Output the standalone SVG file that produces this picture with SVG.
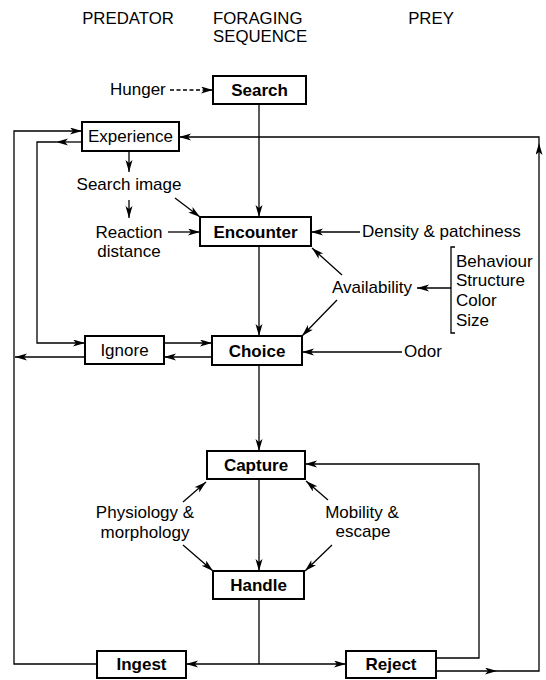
<svg xmlns="http://www.w3.org/2000/svg" width="546" height="680" viewBox="0 0 546 680">
  <style>
    text { font-family: "Liberation Sans", Arial, sans-serif; font-size: 17px; fill: #000; }
    .hdr { font-size: 16.8px; }
    .box { fill: #fff; stroke: #000; stroke-width: 2; }
    .lbl { font-weight: bold; font-size: 17px; text-anchor: middle; }
    .mid { text-anchor: middle; }
    .wire { fill: none; stroke: #000; stroke-width: 1.3; }
    .arr { marker-end: url(#head); }
  </style>
  <defs>
    <marker id="head" markerUnits="userSpaceOnUse" markerWidth="13" markerHeight="8" refX="12" refY="3.5" orient="auto">
      <path d="M0,0 L12,3.5 L0,7 L3,3.5 Z" fill="#000"/>
    </marker>
  </defs>

  <!-- column headings -->
  <g id="headings">
    <text class="hdr mid" x="128" y="24">PREDATOR</text>
    <text class="hdr" x="213" y="24">FORAGING</text>
    <text class="hdr" x="213" y="42">SEQUENCE</text>
    <text class="hdr mid" x="431" y="24">PREY</text>
  </g>

  <!-- connectors -->
  <g id="connectors">
    <path class="wire arr" d="M170,90 H213" stroke-dasharray="4 2.5"/>
    <path class="wire arr" d="M259,104 V217"/>
    <path class="wire arr" d="M129,151 V172"/>
    <path class="wire arr" d="M129,200 V218"/>
    <path class="wire arr" d="M175,198 L200,217"/>
    <path class="wire arr" d="M168,232 H200"/>
    <path class="wire arr" d="M360,232 H311"/>
    <path class="wire arr" d="M342,275 L312,248"/>
    <path class="wire arr" d="M337,300 L302,336"/>
    <path class="wire arr" d="M451,288 H417"/>
    <path class="wire" d="M455,247 H451 V333 H455"/>
    <path class="wire arr" d="M259,246 V336"/>
    <path class="wire arr" d="M402,352 H302"/>
    <path class="wire arr" d="M164,343 H212"/>
    <path class="wire arr" d="M212,357 H164"/>
    <path class="wire arr" d="M82,142 H56"/>
    <path class="wire arr" d="M56,142 H37 V343 H85"/>
    <path class="wire arr" d="M85,357 H15"/>
    <path class="wire arr" d="M97,664 H14 V131 H82"/>
    <path class="wire arr" d="M259,365 V451"/>
    <path class="wire arr" d="M259,479 V571"/>
    <path class="wire arr" d="M183,502 L206,482"/>
    <path class="wire arr" d="M183,545 L213,571"/>
    <path class="wire arr" d="M328,500 L306,481"/>
    <path class="wire arr" d="M332,545 L305,571"/>
    <path class="wire" d="M259,599 V664"/>
    <path class="wire arr" d="M259,664 H186"/>
    <path class="wire arr" d="M259,664 H346"/>
    <path class="wire arr" d="M436,658 H479 V464 H305"/>
    <path class="wire arr" d="M436,671 H497"/>
    <path class="wire arr" d="M497,671 H539 V143"/>
    <path class="wire arr" d="M539,143 V137 H179"/>
  </g>

  <!-- foraging sequence -->
  <g id="search">
    <rect class="box" x="213" y="76" width="93" height="28"/>
    <text class="lbl" x="259.5" y="96">Search</text>
  </g>
  <g id="encounter">
    <rect class="box" x="200" y="217" width="111" height="29"/>
    <text class="lbl" x="255.5" y="238">Encounter</text>
  </g>
  <g id="choice">
    <rect class="box" x="212" y="336" width="90" height="29"/>
    <text class="lbl" x="257" y="357">Choice</text>
  </g>
  <g id="capture">
    <rect class="box" x="207" y="451" width="98" height="28"/>
    <text class="lbl" x="256" y="471">Capture</text>
  </g>
  <g id="handle">
    <rect class="box" x="213" y="571" width="91" height="28"/>
    <text class="lbl" x="258.5" y="591">Handle</text>
  </g>
  <g id="ingest">
    <rect class="box" x="97" y="651" width="89" height="27"/>
    <text class="lbl" x="141.5" y="670">Ingest</text>
  </g>
  <g id="reject">
    <rect class="box" x="346" y="651" width="90" height="27"/>
    <text class="lbl" x="391" y="670">Reject</text>
  </g>

  <!-- predator side -->
  <g id="experience">
    <rect class="box" x="82" y="122" width="97" height="29"/>
    <text class="mid" x="130.5" y="142">Experience</text>
  </g>
  <g id="ignore">
    <rect class="box" x="85" y="336" width="79" height="28"/>
    <text class="mid" x="124.5" y="356">Ignore</text>
  </g>
  <g id="hunger"><text x="110" y="95">Hunger</text></g>
  <g id="search-image"><text class="mid" x="129" y="190">Search image</text></g>
  <g id="reaction-distance">
    <text class="mid" x="129" y="238">Reaction</text>
    <text class="mid" x="129" y="257">distance</text>
  </g>
  <g id="physiology">
    <text class="mid" x="145" y="518">Physiology &amp;</text>
    <text class="mid" x="145" y="538">morphology</text>
  </g>

  <!-- prey side -->
  <g id="density"><text x="362" y="237">Density &amp; patchiness</text></g>
  <g id="availability"><text x="332" y="293">Availability</text></g>
  <g id="traits">
    <text x="456" y="267">Behaviour</text>
    <text x="456" y="286">Structure</text>
    <text x="456" y="306">Color</text>
    <text x="456" y="326">Size</text>
  </g>
  <g id="odor"><text x="404" y="357">Odor</text></g>
  <g id="mobility">
    <text class="mid" x="362" y="518">Mobility &amp;</text>
    <text class="mid" x="363" y="537">escape</text>
  </g>
</svg>
